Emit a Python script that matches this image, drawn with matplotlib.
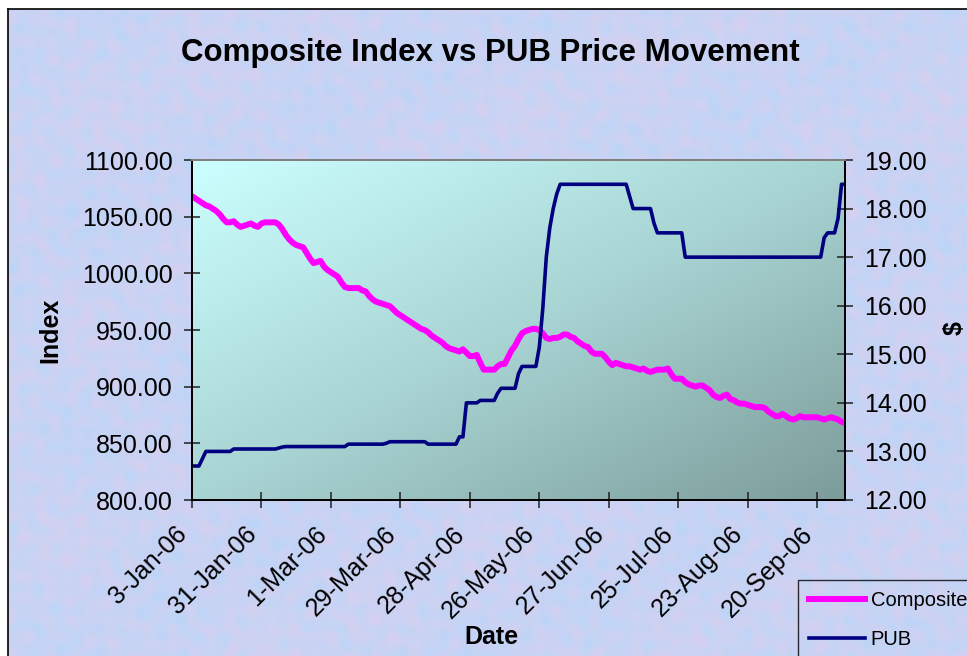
import numpy as np
import matplotlib
matplotlib.use('Agg')
import matplotlib.pyplot as plt
from matplotlib.colors import LinearSegmentedColormap

# trading-day series, one value per category on the x axis
composite = [
	1068, 1066, 1064, 1062, 1060, 1059, 1057, 1055, 1052, 1048,
	1045, 1045, 1046, 1043, 1041, 1042, 1043, 1044, 1042, 1041,
	1044, 1045, 1045, 1045, 1045, 1043, 1039, 1034, 1030, 1027,
	1025, 1024, 1023, 1018, 1013, 1009, 1010, 1011, 1006, 1003,
	1001, 999, 997, 992, 988, 987, 987, 987, 987, 985,
	984, 980, 977, 975, 974, 973, 972, 971, 968, 965,
	963, 961, 959, 957, 955, 953, 951, 950, 948, 945,
	943, 941, 939, 936, 934, 933, 932, 931, 933, 930,
	927, 927, 928, 921, 915, 915, 915, 915, 918, 920,
	920, 926, 932, 936, 942, 947, 949, 950, 951, 951,
	950, 947, 943, 942, 943, 943, 944, 946, 946, 944,
	943, 940, 938, 936, 935, 931, 929, 929, 929, 926,
	922, 919, 921, 920, 919, 918, 918, 917, 916, 915,
	916, 914, 913, 914, 915, 915, 915, 916, 911, 907,
	907, 907, 904, 902, 901, 900, 901, 901, 899, 897,
	893, 891, 890, 892, 893, 889, 888, 886, 885, 885,
	884, 883, 882, 882, 882, 881, 878, 876, 874, 874,
	876, 874, 872, 871, 872, 874, 873, 873, 873, 873,
	873, 872, 871, 872, 873, 872, 871, 869, 868,
]

pub = ([12.7] * 3 + [12.85] + [13.0] * 8 + [13.05] * 13 + [13.07, 13.09]
	+ [13.1] * 18 + [13.15] * 11 + [13.17] + [13.2] * 11 + [13.15] * 9
	+ [13.3] * 2 + [14.0] * 4 + [14.05] * 5 + [14.2] + [14.3] * 5 + [14.6]
	+ [14.75] * 5 + [15.15, 15.95, 17.0, 17.6, 18.0, 18.3] + [18.5] * 20
	+ [18.25] + [18.0] * 6 + [17.7] + [17.5] * 8 + [17.0] * 40 + [17.4]
	+ [17.5] * 3 + [17.8] + [18.5] * 2)

date_labels = ['3-Jan-06', '31-Jan-06', '1-Mar-06', '29-Mar-06', '28-Apr-06',
	'26-May-06', '27-Jun-06', '25-Jul-06', '23-Aug-06', '20-Sep-06']
label_step = 20

W, H = 967, 656
plt.rcParams['font.family'] = ['Liberation Sans', 'DejaVu Sans']

fig = plt.figure(figsize=(W / 100, H / 100), dpi=100)
fig.patch.set_facecolor('white')

# textured chart-area background
bg = fig.add_axes([0, 0, 1, 1], zorder=-10)
bg.set_xlim(0, W)
bg.set_ylim(H, 0)
bg.axis('off')
yy, xx = np.mgrid[0:330, 0:480].astype(float)
a = (np.sin(xx * 0.41 + np.sin(yy * 0.23) * 2.0) + np.sin(yy * 0.37 + np.sin(xx * 0.17) * 2.5)
	+ 0.6 * np.sin(xx * 0.09 - yy * 0.05))
b = np.sin((xx + yy) * 0.29) * np.sin((xx - yy) * 0.33) + 0.5 * np.sin(yy * 0.06 + xx * 0.03)
base = np.array([200, 212, 244]) / 255
pink = np.array([222, 206, 238]) / 255
blue = np.array([184, 214, 248]) / 255
tex = (base + (pink - base) * ((a + 2.6) / 5.2)[..., None] * 0.75
	+ (blue - base) * ((b + 1.5) / 3)[..., None] * 0.9)
bg.imshow(np.clip(tex, 0, 1), extent=(8, W, H, 9), aspect='auto', interpolation='bilinear')
bg.plot([8, 8], [H, 9], color='black', lw=1.2)
bg.plot([8, W], [9, 9], color='black', lw=1.2)

pos = [192 / W, 1 - 500 / H, 653 / W, 340 / H]

# gradient plot area
grad_ax = fig.add_axes(pos, zorder=-5)
grad_ax.axis('off')
gy, gx = np.mgrid[0:1:200j, 0:1:300j]
t = (gx + gy) / 2
cmap = LinearSegmentedColormap.from_list('pa', ['#CCFFFF', '#A8D4D3', '#7C9C9A'])
grad_ax.imshow(t, cmap=cmap, extent=(0, 1, 1, 0), aspect='auto', vmin=0, vmax=1)
grad_ax.set_xlim(0, 1)
grad_ax.set_ylim(1, 0)

ax = fig.add_axes(pos)
ax.patch.set_visible(False)
x = np.arange(len(composite))
l1, = ax.plot(x, composite, color='#FF00FF', lw=4.3, solid_joinstyle='round', label='Composite')
ax.set_xlim(0, len(composite) - 1)
ax.set_ylim(800, 1100)
ax.set_yticks(np.arange(800, 1101, 50))
ax.set_yticklabels(['%.2f' % v for v in np.arange(800, 1101, 50)])
ax.set_xticks(range(0, len(composite), label_step))
ax.set_xticklabels(date_labels, rotation=45, ha='right', rotation_mode='default')

ax2 = ax.twinx()
l2, = ax2.plot(x, pub, color='#000080', lw=2.6, label='PUB')
ax2.set_ylim(12, 19)
ax2.set_yticks(range(12, 20))
ax2.set_yticklabels(['%.2f' % v for v in range(12, 20)])

for a_ in (ax, ax2):
	a_.tick_params(direction='inout', length=11.5, width=1.1, color='#202020',
		labelsize=18, pad=8)
	for s in a_.spines.values():
		s.set_linewidth(1.4)
		s.set_color('black')
	a_.spines['top'].set_color('#808080')
ax.tick_params(axis='x', pad=10)

fig.text(490 / W, 1 - 61 / H, 'Composite Index vs PUB Price Movement',
	ha='center', va='baseline', fontsize=22.5, fontweight='bold')
fig.text(50 / W, 1 - 330 / H, 'Index', rotation=90, ha='center', va='center',
	fontsize=18, fontweight='bold')
fig.text(955 / W, 1 - 328 / H, '$', rotation=90, ha='center', va='center',
	fontsize=18, fontweight='bold')
fig.text(491 / W, 1 - 637 / H, 'Date', ha='center', va='center',
	fontsize=18, fontweight='bold')

leg = fig.legend([l1, l2], ['Composite', 'PUB'], loc='upper left',
	bbox_to_anchor=(798 / W, 1 - 580 / H), fontsize=14.5, frameon=True,
	fancybox=False, handlelength=2.8, handletextpad=0.25, labelspacing=1.0,
	borderpad=0.55, borderaxespad=0)
leg.get_frame().set_facecolor('none')
leg.get_frame().set_edgecolor('black')
leg.get_frame().set_linewidth(1.0)

fig.savefig('out.png', dpi=100)
